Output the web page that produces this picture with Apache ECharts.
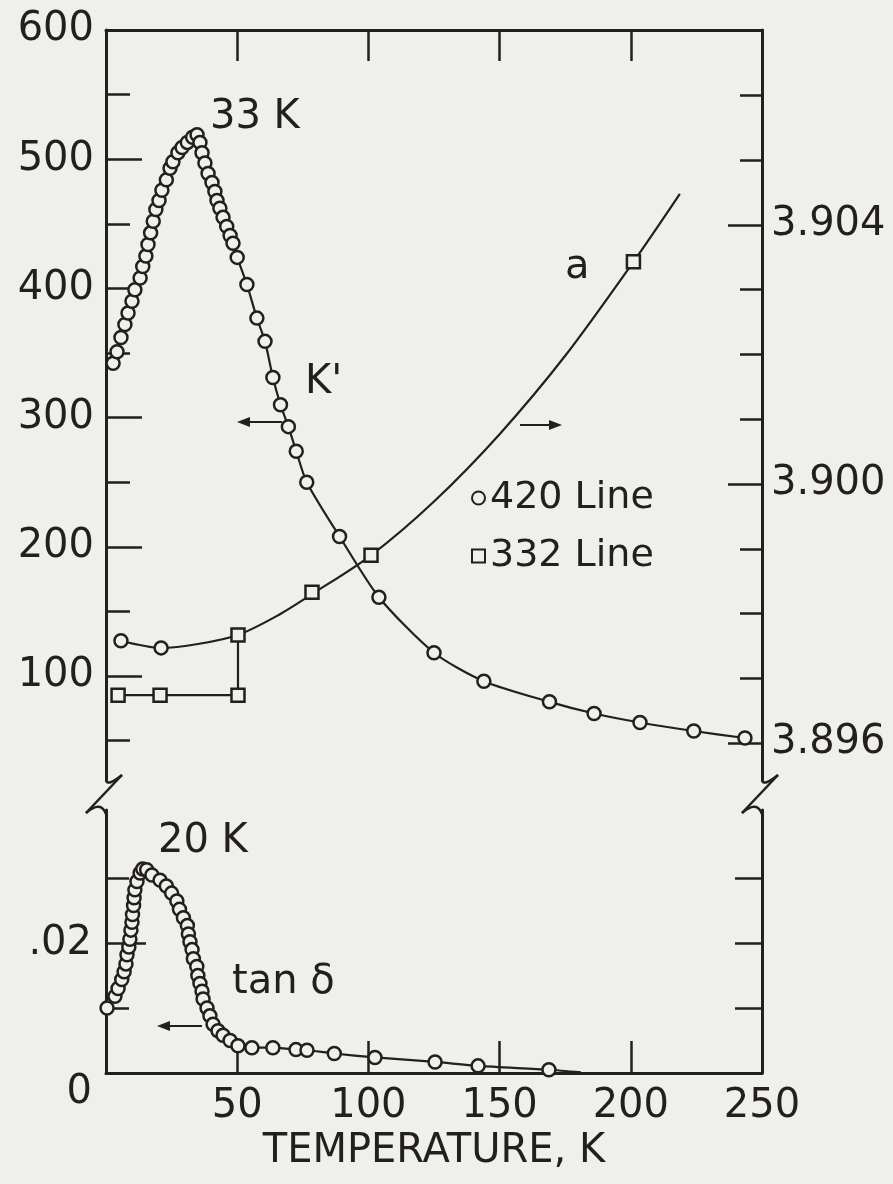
<!DOCTYPE html>
<html>
<head>
<meta charset="utf-8">
<script src="https://cdn.jsdelivr.net/npm/echarts@6/dist/echarts.min.js"></script>
<style>
  html, body { margin: 0; padding: 0; background: #efefeb; }
  #chart { width: 893px; height: 1184px; }
</style>
</head>
<body>
<div id="chart"></div>
<script>
// ---- K' (420 line), upper panel, left axis ----
const kTemp = [2.7, 4.2, 5.7, 7.2, 8.4, 9.9, 11, 13, 14, 15.2, 16, 17, 18, 19, 20.2, 21.3, 23, 24.4, 25.5, 27.4, 29, 31, 33, 34.7,
  35.8, 36.6, 37.7, 38.9, 40.4, 41.5, 42.3, 43.4, 44.6, 46, 47.3, 48.4, 50, 53.7, 57.5, 60.6, 63.6, 66.5, 69.5, 72.5, 76.5,
  89, 104, 125, 144, 169, 186, 203.5, 224, 243.5];
const kPrime = [342, 351, 362, 372, 381, 390, 399, 408, 417, 425, 434, 443, 452, 461, 468, 476, 484, 493, 498, 505, 509, 513, 517, 519,
  513, 505, 497, 489, 482, 475, 468, 462, 455, 448, 441, 435, 424, 403, 377, 359, 331, 310, 293, 274, 250,
  208, 161, 118, 96, 80, 71, 64, 57.4, 52];

// ---- lattice parameter a, upper panel, right axis ----
const a420Temp = [5.7, 21];
const a420 = [3.89758, 3.89747];
const a332Temp = [4.6, 20.6, 50.3, 50.3, 78.5, 101, 201];
const a332 = [3.89674, 3.89674, 3.89674, 3.89767, 3.89833, 3.8989, 3.90343];
// smooth curve through the lattice-parameter points
const aCurveTemp = [5.7, 21, 35, 50.3, 65, 78.5, 101, 125, 150, 175, 201, 218.7];
const aCurve = [3.89758, 3.89747, 3.89753, 3.89767, 3.89796, 3.89830, 3.89890, 3.89973, 3.90077, 3.90198, 3.90343, 3.90448];
// low-temperature branch of the 332 line
const aLowTemp = [4.6, 20.6, 50.3, 50.3];
const aLow = [3.89674, 3.89674, 3.89674, 3.89767];

// ---- tan delta, lower panel ----
const tanTemp = [0.4, 3.4, 4.6, 6, 6.9, 7.6, 8, 8.7, 9.1, 9.5, 9.9, 10.1, 10.5, 10.7, 11, 11.8, 13, 14, 15.5,
  17.5, 20.6, 23, 25, 27, 28, 29.5, 31, 31.4, 32, 32.8, 33.3, 34.6, 35, 35.8, 36.6, 37, 38.5, 39.6, 40.8, 42.7, 44.6, 47.3,
  50.3, 55.6, 63.6, 72.4, 76.6, 87, 102.5, 125.4, 141.8, 168.8];
const tanDelta = [0.0100, 0.0118, 0.0130, 0.0144, 0.0156, 0.0168, 0.0182, 0.0194, 0.0206, 0.0220, 0.0232, 0.0244, 0.0258, 0.0270, 0.0282, 0.0295, 0.0308, 0.0314, 0.0313,
  0.0305, 0.0297, 0.0288, 0.0277, 0.0265, 0.0252, 0.0239, 0.0227, 0.0214, 0.0202, 0.0190, 0.0176, 0.0164, 0.0150, 0.0138, 0.0126, 0.0114, 0.0100, 0.0088, 0.0075, 0.0065, 0.0058, 0.0050,
  0.0042, 0.0039, 0.0039, 0.0036, 0.0035, 0.0030, 0.0024, 0.0017, 0.0011, 0.0005];
const tanLineEnd = [181, 0.0001];

// ---- axis ticks and labels ----
const xTicks = [50, 100, 150, 200];
const xLabels = [50, 100, 150, 200, 250];
const kLabels = [100, 200, 300, 400, 500, 600];
const kMajorTicks = [100, 200, 300, 400, 500];
const kMinorTicks = [50, 150, 250, 350, 450, 550];
const aLabels = [3.896, 3.900, 3.904];
const aMinorTicks = [3.897, 3.898, 3.899, 3.901, 3.902, 3.903, 3.905, 3.906];
const tanMajorTicks = [0.02];
const tanMinorTicks = [0.01, 0.03];
const tanRightTicks = [0.01, 0.02, 0.03];

// ---- layout ----
const INK = '#231f20';
const BG = '#efefeb';
const FONT = '"DejaVu Sans", sans-serif';
const L = 106, R = 762;
const TOP_Y = 30, TOP_END = 780, LOW_Y = 810, LOW_END = 1073;

const chart = echarts.init(document.getElementById('chart'), null, { renderer: 'canvas' });

const axisLine = { show: true, lineStyle: { color: INK, width: 3 } };
const noLine = { show: false };
const tickStyle = { color: INK, width: 2.5 };
const labelStyle = { color: INK, fontSize: 40, fontFamily: FONT };

function yAxisBase(grid, pos, min, max, extra) {
  return Object.assign({
    type: 'value', gridIndex: grid, position: pos, min: min, max: max,
    splitLine: { show: false }, axisLine: noLine,
    axisTick: { show: false }, axisLabel: { show: false }
  }, extra);
}

const kMin = 19.5, kMax = 600;
const aMin = 3.89543, aMax = 3.90701;
const tMin = 0, tMax = 0.0405;

const hollow = { color: BG, borderColor: INK, borderWidth: 2.5, opacity: 1 };

function pairs(xs, ys) { return xs.map((x, i) => [x, ys[i]]); }

const stroke = { stroke: INK, lineWidth: 2.5, fill: null };

// axis break: hook off the upper axis, slash, hook into the lower axis
function axisBreak(x, yUp, yLow) {
  return {
    type: 'group', children: [
      { type: 'bezierCurve', shape: { x1: x, y1: yUp, cpx1: x + 1, cpy1: yUp + 7, x2: x + 16, y2: yUp - 5 }, style: stroke },
      { type: 'line', shape: { x1: x + 16, y1: yUp - 5, x2: x - 20, y2: yLow + 3 }, style: stroke },
      { type: 'bezierCurve', shape: { x1: x - 20, y1: yLow + 3, cpx1: x - 5, cpy1: yLow - 10, x2: x, y2: yLow + 4 }, style: stroke }
    ]
  };
}

function arrow(x1, x2, y) {
  const dir = Math.sign(x2 - x1);
  return {
    type: 'group', children: [
      { type: 'line', shape: { x1: x1, y1: y, x2: x2 - dir * 8, y2: y }, style: { stroke: INK, lineWidth: 2.2 } },
      { type: 'polygon', shape: { points: [[x2, y], [x2 - dir * 13, y - 5], [x2 - dir * 13, y + 5]] }, style: { fill: INK } }
    ]
  };
}

function label(text, x, y, size) {
  return { type: 'text', x: x, y: y, style: { text: text, fill: INK, font: (size || 40) + 'px ' + FONT, verticalAlign: 'middle', align: 'left' } };
}

const option = {
  backgroundColor: BG,
  animation: false,
  grid: [
    { left: L, top: TOP_Y, width: R - L, height: TOP_END - TOP_Y },
    { left: L, top: LOW_Y, width: R - L, height: LOW_END - LOW_Y }
  ],
  legend: {
    left: 466, top: 474, orient: 'vertical', itemGap: 20, itemWidth: 13, itemHeight: 13,
    selectedMode: false,
    textStyle: { color: INK, fontSize: 38, fontFamily: FONT },
    itemStyle: { color: BG, borderColor: INK, borderWidth: 2 },
    data: [{ name: '420 Line', icon: 'circle' }, { name: '332 Line', icon: 'rect' }]
  },
  xAxis: [
    {
      type: 'value', gridIndex: 0, position: 'top', min: 0, max: 250,
      splitLine: { show: false }, axisLine: axisLine,
      axisTick: { show: true, inside: true, length: 31, lineStyle: tickStyle, customValues: xTicks },
      axisLabel: { show: false }
    },
    {
      type: 'value', gridIndex: 1, position: 'bottom', min: 0, max: 250,
      splitLine: { show: false }, axisLine: axisLine,
      axisTick: { show: true, inside: true, length: 32, lineStyle: tickStyle, customValues: xTicks },
      axisLabel: Object.assign({ show: true, margin: 14, customValues: xLabels }, labelStyle),
      name: 'TEMPERATURE, K', nameLocation: 'middle', nameGap: 59,
      nameTextStyle: { color: INK, fontSize: 40, fontFamily: FONT }
    }
  ],
  yAxis: [
    // 0: K' major ticks, labels, left frame line
    yAxisBase(0, 'left', kMin, kMax, {
      axisLine: axisLine,
      axisTick: { show: true, inside: true, length: 36, lineStyle: tickStyle, customValues: kMajorTicks },
      axisLabel: Object.assign({ show: true, margin: 12, customValues: kLabels }, labelStyle)
    }),
    // 1: K' minor ticks
    yAxisBase(0, 'left', kMin, kMax, {
      axisTick: { show: true, inside: true, length: 24, lineStyle: tickStyle, customValues: kMinorTicks }
    }),
    // 2: lattice parameter a, right frame line
    yAxisBase(0, 'right', aMin, aMax, {
      axisLine: axisLine,
      axisTick: { show: true, inside: true, length: 34, lineStyle: tickStyle, customValues: aLabels },
      axisLabel: Object.assign({ show: true, margin: 9, customValues: aLabels, formatter: v => v.toFixed(3) }, labelStyle)
    }),
    // 3: a minor ticks
    yAxisBase(0, 'right', aMin, aMax, {
      axisTick: { show: true, inside: true, length: 22, lineStyle: tickStyle, customValues: aMinorTicks }
    }),
    // 4: tan delta, left frame line and minor ticks
    yAxisBase(1, 'left', tMin, tMax, {
      axisLine: axisLine,
      axisTick: { show: true, inside: true, length: 23, lineStyle: tickStyle, customValues: tanMinorTicks }
    }),
    // 5: tan delta major tick and label
    yAxisBase(1, 'left', tMin, tMax, {
      axisTick: { show: true, inside: true, length: 40, lineStyle: tickStyle, customValues: tanMajorTicks },
      axisLabel: Object.assign({ show: true, margin: 14, customValues: [0.02], formatter: () => '.02' }, labelStyle)
    }),
    // 6: zero label below the corner
    yAxisBase(1, 'left', tMin, tMax, {
      axisLabel: Object.assign({ show: true, margin: 14, customValues: [0], verticalAlign: 'top', formatter: () => '0' }, labelStyle)
    }),
    // 7: right frame line of the lower panel
    yAxisBase(1, 'right', tMin, tMax, {
      axisLine: axisLine,
      axisTick: { show: true, inside: true, length: 27, lineStyle: tickStyle, customValues: tanRightTicks }
    })
  ],
  series: [
    {
      name: 'a', type: 'line', xAxisIndex: 0, yAxisIndex: 2, showSymbol: false, smooth: 0.3,
      lineStyle: { color: INK, width: 2.2 }, data: pairs(aCurveTemp, aCurve), z: 2
    },
    {
      name: '332 low', type: 'line', xAxisIndex: 0, yAxisIndex: 2, showSymbol: false,
      lineStyle: { color: INK, width: 2.2 }, data: pairs(aLowTemp, aLow), z: 2
    },
    {
      name: '420 Line', type: 'line', xAxisIndex: 0, yAxisIndex: 0, smooth: 0.25,
      symbol: 'circle', symbolSize: 13, itemStyle: hollow,
      lineStyle: { color: INK, width: 2.2 }, data: pairs(kTemp, kPrime), z: 3
    },
    {
      name: 'a 420', type: 'scatter', xAxisIndex: 0, yAxisIndex: 2,
      symbol: 'circle', symbolSize: 13, itemStyle: hollow, data: pairs(a420Temp, a420), z: 4
    },
    {
      name: '332 Line', type: 'scatter', xAxisIndex: 0, yAxisIndex: 2,
      symbol: 'rect', symbolSize: 13, itemStyle: hollow, data: pairs(a332Temp, a332), z: 4
    },
    {
      name: 'tan delta', type: 'line', xAxisIndex: 1, yAxisIndex: 4, smooth: 0.25,
      symbol: 'circle', symbolSize: 13, itemStyle: hollow,
      lineStyle: { color: INK, width: 2.2 },
      data: pairs(tanTemp, tanDelta).concat([{ value: tanLineEnd, symbol: 'none' }]), z: 3
    }
  ],
  graphic: [
    axisBreak(L, TOP_END, LOW_Y),
    axisBreak(R, TOP_END, LOW_Y),
    label('33 K', 210, 118),
    label("K'", 305, 383),
    label('a', 565, 268),
    label('20 K', 158, 842),
    label('tan δ', 232, 983),
    arrow(282, 237, 422),
    arrow(520, 562, 425),
    arrow(202, 157, 1026)
  ]
};

chart.setOption(option);
</script>
</body>
</html>
